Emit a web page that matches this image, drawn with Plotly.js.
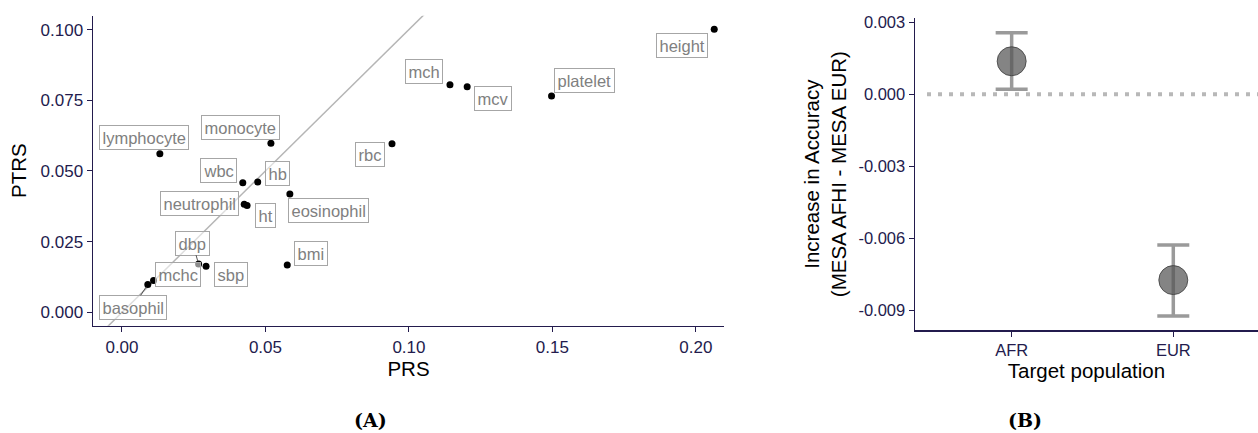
<!DOCTYPE html>
<html>
<head>
<meta charset="utf-8">
<script src="https://cdn.plot.ly/plotly-3.0.1.min.js"></script>
<style>
  html, body { margin: 0; padding: 0; background: #ffffff; }
  #chart { width: 1258px; height: 433px; }
</style>
</head>
<body>
<div id="chart"></div>
<script>
// ---------------- DATA ----------------
// Panel A: accuracy of PRS vs PTRS per trait
const traits = ["lymphocyte", "monocyte", "wbc", "hb", "neutrophil", "ht", "eosinophil", "rbc",
                "dbp", "sbp", "bmi", "mchc", "basophil", "mch", "mcv", "platelet", "height"];
const prs    = [0.0132, 0.0519, 0.0421, 0.0473, 0.0426, 0.0436, 0.0585, 0.0941,
                0.0267, 0.0293, 0.0576, 0.0110, 0.0090, 0.1143, 0.1203, 0.1497, 0.2064];
const ptrs   = [0.0561, 0.0598, 0.0458, 0.0461, 0.0382, 0.0378, 0.0419, 0.0596,
                0.0171, 0.0163, 0.0168, 0.0113, 0.0099, 0.0805, 0.0798, 0.0765, 0.1001];
const xTicksA = [0, 0.05, 0.10, 0.15, 0.20];
const yTicksA = [0, 0.025, 0.05, 0.075, 0.10];

// Panel B: increase in accuracy by target population
const populations = ["AFR", "EUR"];
const diffMean    = [0.00138, -0.00774];
const diffLow     = [0.00021, -0.00924];
const diffHigh    = [0.00257, -0.00628];
const yTickValsB  = [0.003, 0.000, -0.003, -0.006, -0.009];
const yTickTextB  = ["0.003", "0.000", "-0.003", "-0.006", "-0.009"];

// ---------------- STYLE / LAYOUT CONFIG ----------------
const W = 1258, H = 433;
const axisColor = "#231b4d";
const font = "Liberation Sans, Arial, Helvetica, sans-serif";
const xRangeA = [-0.0101, 0.2098];
const yRangeA = [-0.0047, 0.1049];

// label box offsets (px) from each point: [dx, dy] (screen coords, dy down)
const labelOffsets = {
  lymphocyte: [-16, -16], monocyte: [-30, -16], wbc: [-24, -12], hb: [20, -9],
  neutrophil: [-45, -1], ht: [18, 10], eosinophil: [39, 17], rbc: [-22, 11],
  dbp: [-6, -21], sbp: [25, 8], bmi: [24, -11], mchc: [24, -6], basophil: [-15, 23],
  mch: [-26, -13], mcv: [26, 12], platelet: [33, -16], height: [-32, 16]
};
const withSegment = { dbp: true, basophil: true };

function px(a, b) { return a / b; }

const traces = [
  { // identity reference line (y = x) across the x range
    x: xRangeA, y: xRangeA, xaxis: "x", yaxis: "y",
    mode: "lines", line: { color: "#b5b5b5", width: 1.5 },
    hoverinfo: "skip", showlegend: false
  },
  {
    x: prs, y: ptrs, xaxis: "x", yaxis: "y", text: traits,
    mode: "markers", marker: { color: "#000000", size: 7 },
    showlegend: false
  },
  {
    x: populations, y: diffMean, xaxis: "x2", yaxis: "y2",
    mode: "markers",
    marker: { color: "rgba(85,85,85,0.72)", size: 29, line: { color: "rgba(60,60,60,0.8)", width: 1 } },
    error_y: {
      type: "data", symmetric: false,
      array: diffHigh.map((h, i) => h - diffMean[i]),
      arrayminus: diffMean.map((m, i) => m - diffLow[i]),
      color: "rgba(120,120,120,0.75)", thickness: 3.5, width: 16
    },
    showlegend: false
  }
];

const annotations = traits.map((t, i) => {
  const o = labelOffsets[t];
  return {
    x: prs[i], y: ptrs[i], xref: "x", yref: "y",
    text: t, showarrow: true, ax: o[0], ay: o[1],
    arrowhead: 0, arrowwidth: 1, standoff: 3,
    arrowcolor: withSegment[t] ? "#555555" : "rgba(0,0,0,0)",
    font: { family: font, size: 16.5, color: "#808080" },
    bgcolor: "rgba(255,255,255,0.55)", bordercolor: "#a6a6a6",
    borderwidth: 1, borderpad: 2.5
  };
});
annotations.push(
  { text: "<b>(A)</b>", xref: "paper", yref: "paper", x: px(370, W), y: 1 - px(420, H),
    xanchor: "center", yanchor: "middle",
    showarrow: false, font: { family: "DejaVu Serif, serif", size: 19, color: "#000" } },
  { text: "<b>(B)</b>", xref: "paper", yref: "paper", x: px(1025, W), y: 1 - px(420, H),
    xanchor: "center", yanchor: "middle",
    showarrow: false, font: { family: "DejaVu Serif, serif", size: 19, color: "#000" } }
);

const tickFontA = { family: font, size: 17, color: axisColor };
const tickFontB = { family: font, size: 16.5, color: axisColor };
const titleFont = { family: font, size: 20.5, color: "#000000" };

const layout = {
  width: W, height: H,
  margin: { l: 0, r: 0, t: 0, b: 0 },
  paper_bgcolor: "#ffffff", plot_bgcolor: "#ffffff",
  font: { family: font },
  xaxis: {
    domain: [px(93, W), px(724, W)], anchor: "y",
    range: xRangeA, tickvals: xTicksA, tickformat: ".2f",
    showgrid: false, zeroline: false,
    showline: true, linecolor: axisColor, linewidth: 1.5,
    ticks: "outside", ticklen: 5, tickcolor: axisColor, tickwidth: 1,
    tickfont: tickFontA,
    title: { text: "PRS", font: titleFont, standoff: 4 }
  },
  yaxis: {
    domain: [1 - px(325.7, H), 1 - px(15.7, H)], anchor: "x",
    range: yRangeA, tickvals: yTicksA, tickformat: ".3f",
    showgrid: false, zeroline: false,
    showline: true, linecolor: axisColor, linewidth: 1.5,
    ticks: "outside", ticklen: 5, tickcolor: axisColor, tickwidth: 1,
    tickfont: tickFontA,
    title: { text: "PTRS", font: titleFont, standoff: 8 }
  },
  xaxis2: {
    domain: [px(915, W), 1], anchor: "y2",
    type: "category", range: [-0.598, 1.524],
    showgrid: false, zeroline: false,
    showline: true, linecolor: axisColor, linewidth: 1.5,
    ticks: "outside", ticklen: 5, tickcolor: axisColor, tickwidth: 1,
    tickfont: tickFontB,
    title: { text: "Target population", font: titleFont, standoff: 2 }
  },
  yaxis2: {
    domain: [1 - px(330, H), 1 - px(18.3, H)], anchor: "x2",
    range: [-0.00982, 0.00317],
    tickvals: yTickValsB, ticktext: yTickTextB,
    showgrid: false, zeroline: false,
    showline: true, linecolor: axisColor, linewidth: 1.5,
    ticks: "outside", ticklen: 5, tickcolor: axisColor, tickwidth: 1,
    tickfont: tickFontB,
    title: { text: "Increase in Accuracy<br>(MESA AFHI - MESA EUR)", font: titleFont, standoff: 6 }
  },
  shapes: [
    { type: "line", xref: "x2 domain", yref: "y2", x0: 0.035, x1: 1, y0: 0, y1: 0,
      line: { color: "#b8b8b8", width: 4, dash: "4px,7px" }, layer: "below" }
  ],
  annotations: annotations,
  showlegend: false
};

Plotly.newPlot("chart", traces, layout, { displayModeBar: false, staticPlot: true });
</script>
</body>
</html>
